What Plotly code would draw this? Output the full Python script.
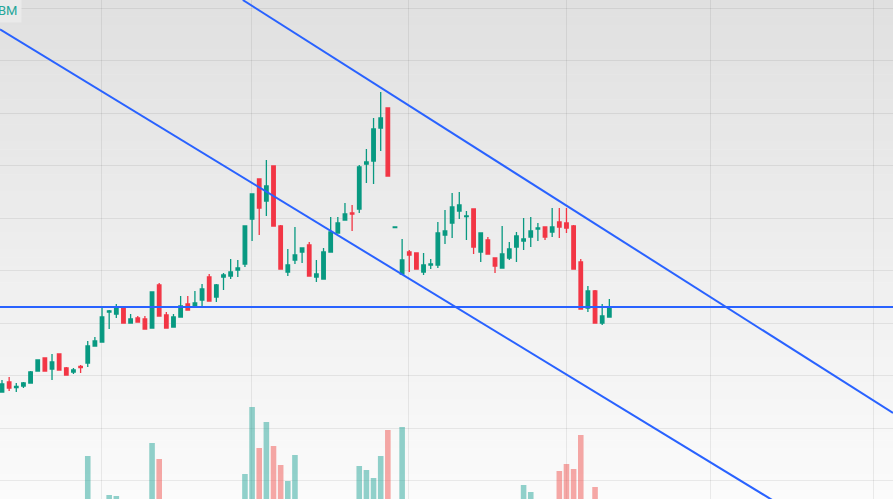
import plotly.graph_objects as go

idx = list(range(86))
opens  = [10.8,11.8,11.25,11.4,11.7,12.9,14.2,13.1,14.6,13.2,12.8,13.35,13.7,15.4,15.8,18.8,18.6,19.3,17.7,18.2,
          18.1,17.2,21.5,18.5,17.3,18.3,19.6,19.4,20.0,22.3,20.3,22.3,22.4,23.0,23.6,28.1,32.1,29.9,33.4,27.4,
          22.8,24.0,24.8,25.5,22.3,22.1,24.8,26.7,28.0,28.7,29.1,33.6,33.9,37.2,39.2,27.25,22.6,24.8,24.7,22.8,
          23.5,23.5,26.5,27.7,28.9,28.35,29.1,24.8,26.0,24.2,23.2,24.2,25.3,25.9,26.3,27.1,27.3,26.8,27.8,27.7,
          27.4,23.8,19.2,20.9,17.7,18.3]
highs  = [12.0,12.3,11.7,11.8,12.9,14.0,14.2,14.6,14.6,13.3,13.2,13.5,15.9,16.3,19.2,19.0,19.6,19.3,18.6,18.4,
          18.4,20.8,21.7,18.8,18.6,20.4,20.4,20.9,21.6,22.6,21.6,22.7,24.1,24.0,27.4,30.6,32.1,34.0,33.4,27.5,
          25.1,27.3,25.2,25.8,24.0,25.2,28.3,28.3,29.7,29.5,33.5,35.1,38.2,40.8,39.2,27.3,26.1,25.0,24.7,24.7,
          24.1,27.8,29.0,30.7,30.8,28.9,29.1,26.7,26.3,24.2,27.4,25.8,26.8,28.2,28.3,27.7,27.3,29.2,29.2,29.2,
          27.5,24.1,21.4,21.0,19.6,20.1]
lows   = [10.8,10.9,10.8,11.2,11.7,12.9,12.9,12.0,13.0,12.5,12.6,12.7,13.3,15.4,15.8,17.1,18.2,17.7,17.7,17.8,
          17.1,17.2,18.4,17.2,17.3,18.3,19.0,19.4,19.4,19.9,19.8,21.0,22.1,22.3,23.3,25.9,26.5,28.4,27.4,23.1,
          22.4,23.6,23.7,22.4,21.8,22.1,24.8,26.7,28.0,26.9,28.7,31.7,31.6,34.9,32.4,27.25,22.6,22.8,23.1,22.5,
          23.1,23.2,25.6,26.2,28.1,26.0,24.6,23.8,24.6,22.7,23.2,24.0,23.8,25.0,25.3,25.9,26.0,26.3,26.2,26.7,
          23.1,19.1,18.8,17.7,17.5,18.3]
closes = [11.6,11.2,11.35,11.7,12.8,14.0,12.9,13.8,13.0,12.5,13.0,13.25,15.4,15.9,18.3,18.9,19.3,17.7,18.1,17.8,
          17.1,20.8,18.4,17.2,18.3,19.4,19.0,19.7,21.1,19.9,21.5,22.5,22.8,23.2,27.4,30.6,29.2,31.4,27.4,23.1,
          23.5,24.5,25.2,22.4,22.6,24.8,26.8,27.7,28.6,28.6,33.3,33.8,37.1,38.2,32.4,27.3,24.0,24.5,23.1,23.5,
          23.6,26.7,26.9,29.3,29.5,28.4,25.3,26.7,24.6,23.4,24.6,25.1,26.4,26.1,26.9,27.2,26.3,27.3,27.3,27.2,
          23.1,19.1,20.9,17.7,18.4,19.3]
volume = [0]*86
vol_seen = {12:4.3,15:0.4,16:0.3,21:5.6,22:4.0,34:2.5,35:9.2,36:5.1,37:7.7,38:5.3,39:3.4,40:1.8,41:4.4,
            50:3.3,51:2.9,52:2.1,53:4.3,54:6.9,56:7.2,73:1.4,74:0.7,78:2.8,79:3.5,80:3.0,81:6.4,83:1.2}
for k, v in vol_seen.items():
    volume[k] = v

support_level = 19.3
trend_lower = [(-0.28, 47.07), (107.8, 0.0)]
trend_upper = [(33.7, 50.0), (124.7, 8.7)]
month_ticks = [13.86, 34.85, 56.96, 78.94, 99.1, 122.0]

UP, DN = '#089981', '#f23645'
vcol = ['rgba(239,83,80,0.5)' if c < o else 'rgba(38,166,154,0.5)' for o, c in zip(opens, closes)]

fig = go.Figure()
fig.add_trace(go.Bar(x=idx, y=volume, marker_color=vcol, marker_line_width=0, width=0.78,
                     yaxis='y2', showlegend=False, hoverinfo='skip'))
fig.add_trace(go.Candlestick(x=idx, open=opens, high=highs, low=lows, close=closes,
                             increasing=dict(line=dict(color=UP, width=1.3), fillcolor=UP),
                             decreasing=dict(line=dict(color=DN, width=1.3), fillcolor=DN),
                             whiskerwidth=0, showlegend=False))

shapes = []
N = 60
top_c, bot_c = (224, 224, 224), (251, 251, 251)
for k in range(N):
    t = (k + 0.5) / N
    c = tuple(int(round(top_c[j] + (bot_c[j] - top_c[j]) * t)) for j in range(3))
    shapes.append(dict(type='rect', xref='paper', yref='paper', x0=0, x1=1,
                       y0=1 - (k + 1) / N, y1=1 - k / N + 0.001, layer='below',
                       fillcolor='rgb(%d,%d,%d)' % c, line_width=0))
line_style = dict(color='#2962ff', width=2)
shapes.append(dict(type='line', xref='paper', x0=0, x1=1, yref='y', y0=support_level, y1=support_level, line=line_style))
for ln in (trend_lower, trend_upper):
    shapes.append(dict(type='line', xref='x', yref='y', x0=ln[0][0], y0=ln[0][1], x1=ln[1][0], y1=ln[1][1], line=line_style))

fig.update_layout(
    width=893, height=499, autosize=False,
    margin=dict(l=0, r=0, t=0, b=0),
    paper_bgcolor='#fafafa', plot_bgcolor='rgba(0,0,0,0)',
    shapes=shapes,
    xaxis=dict(range=[-0.28, 124.7], tickvals=month_ticks, showticklabels=False, showgrid=True,
               gridcolor='rgba(0,0,0,0.07)', zeroline=False, rangeslider=dict(visible=False), fixedrange=True),
    yaxis=dict(range=[0.1, 50.0], tick0=1.95, dtick=5.25, showticklabels=False, showgrid=True,
               gridcolor='rgba(0,0,0,0.07)', zeroline=False),
    yaxis2=dict(range=[0, 49.9], overlaying='y', visible=False, showgrid=False),
    annotations=[dict(text='BM', xref='paper', yref='paper', x=0, y=1, xanchor='left', yanchor='top',
                      showarrow=False, font=dict(family='Roboto', size=13, color='#26a69a'),
                      bgcolor='rgba(234,234,234,0.95)', borderpad=4, xshift=-7, yshift=2)],
)
fig.write_html('out.html', config={'displayModeBar': False},
               post_script="document.body.style.margin='0';document.body.style.overflow='hidden';")
